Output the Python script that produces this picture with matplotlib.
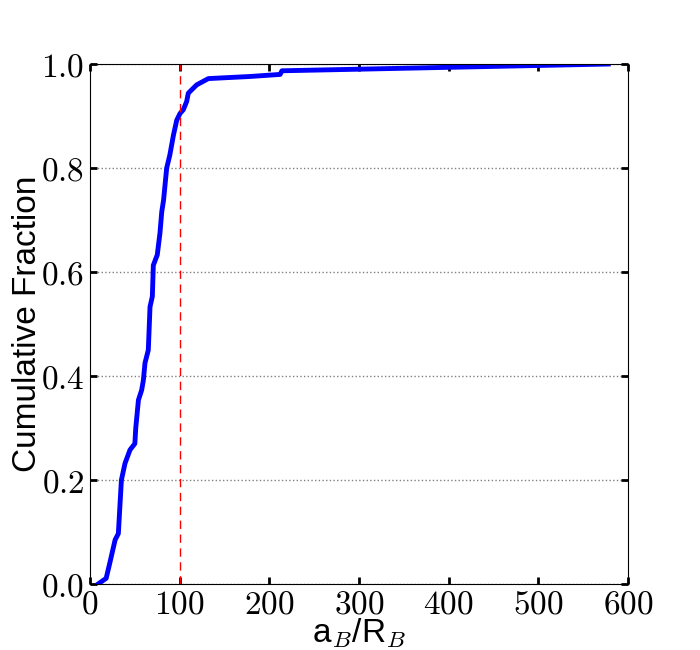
import matplotlib
matplotlib.use("Agg")
import matplotlib.pyplot as plt
from matplotlib.ticker import FuncFormatter

plt.rcParams['font.family'] = ['Liberation Sans', 'DejaVu Sans']
plt.rcParams['mathtext.fontset'] = 'cm'

# cumulative distribution of a_B/R_B
ratio = [9, 18, 22, 28, 31.6, 33, 35, 39, 44.6, 50, 51, 54, 57.6, 59.5, 61.3,
         65, 66.9, 69.5, 70.6, 75, 78, 80, 82, 85.5, 89, 93, 96.7, 100.4, 104,
         107.8, 109.6, 119, 132, 178, 212, 214, 578]
cumfrac = [0.0, 0.011, 0.04, 0.085, 0.097, 0.14, 0.2, 0.232, 0.258, 0.27, 0.3,
           0.354, 0.373, 0.392, 0.425, 0.45, 0.533, 0.553, 0.613, 0.633, 0.675,
           0.716, 0.738, 0.8, 0.825, 0.863, 0.892, 0.905, 0.912, 0.928, 0.944,
           0.96, 0.972, 0.976, 0.98, 0.987, 1.0]
cut = 100

xticks = [0, 100, 200, 300, 400, 500, 600]
yticks = [0.0, 0.2, 0.4, 0.6, 0.8, 1.0]

fig = plt.figure(figsize=(7, 6.5), dpi=100)
ax = fig.add_axes([0.1286, 0.1015, 0.7686, 0.8])

ax.plot(ratio, cumfrac, color='blue', lw=3.5, solid_joinstyle='round')
ax.plot([cut, cut], [0, 1], color='red', ls='--', lw=1, dashes=(6, 4))

ax.set_xlim(0, 600)
ax.set_ylim(0, 1)
ax.set_xticks(xticks)
ax.set_yticks(yticks)
ax.xaxis.set_major_formatter(FuncFormatter(lambda v, p: r'$%d$' % v))
ax.yaxis.set_major_formatter(FuncFormatter(lambda v, p: r'$%.1f$' % v))
ax.tick_params(direction='in', length=5, width=2, labelsize=24, pad=4,
               top=True, right=True)
ax.yaxis.grid(True, ls=':', color='grey', lw=1)

ax.set_xlabel(r'a$_B$/R$_B$', fontsize=24)
ax.set_ylabel('Cumulative Fraction', fontsize=24)
ax.xaxis.set_label_coords(0.5, -0.063)
ax.yaxis.set_label_coords(-0.088, 0.5)

fig.savefig('out.png', dpi=100)
